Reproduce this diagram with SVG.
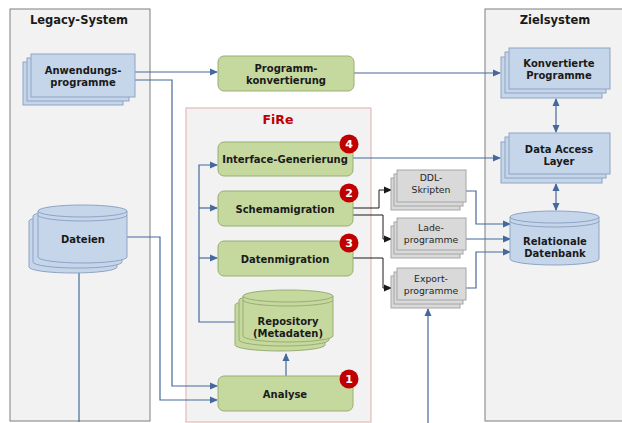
<svg xmlns="http://www.w3.org/2000/svg" width="622" height="423" viewBox="0 0 622 423">
<defs>
<style>
.panel{fill:#f2f2f2;stroke:#7f7f7f;stroke-width:1}
.fire{fill:#f2f2f2;stroke:#e6b9b8;stroke-width:1.2}
.ttl{font-family:"DejaVu Sans",Verdana,sans-serif;font-weight:bold;font-size:11.5px;fill:#1a1a1a;text-anchor:middle}
.t{font-family:"DejaVu Sans",Verdana,sans-serif;font-weight:bold;font-size:10px;fill:#1a1a1a;text-anchor:middle}
.tg{font-family:"DejaVu Sans",Verdana,sans-serif;font-size:9.3px;fill:#262626;text-anchor:middle}
.blue{fill:#c6d6ea;stroke:#8ea3c4;stroke-width:1}
.green{fill:#c5d89e;stroke:#9aae74;stroke-width:1}
.gray{fill:#d9d9d9;stroke:#a6a6a6;stroke-width:1}
.cb{fill:none;stroke:#44699c;stroke-width:1.2}
.ck{fill:none;stroke:#1a1a1a;stroke-width:1}
.badge{fill:#c00000}
.bt{font-family:"DejaVu Sans",Verdana,sans-serif;font-weight:bold;font-size:11px;fill:#ffffff;text-anchor:middle}
</style>
<marker id="ab" markerWidth="8" markerHeight="8" refX="7" refY="4" orient="auto" markerUnits="userSpaceOnUse"><path d="M0,0.5 L8,4 L0,7.5 z" fill="#44699c"/></marker>
<marker id="abs" markerWidth="8" markerHeight="8" refX="1" refY="4" orient="auto" markerUnits="userSpaceOnUse"><path d="M8,0.5 L0,4 L8,7.5 z" fill="#44699c"/></marker>
<marker id="ak" markerWidth="8" markerHeight="8" refX="7" refY="4" orient="auto" markerUnits="userSpaceOnUse"><path d="M0,0.5 L8,4 L0,7.5 z" fill="#1a1a1a"/></marker>
</defs>

<g id="legacy-system">
<rect class="panel" x="10" y="9" width="140" height="412"/>
<text class="ttl" x="79" y="24">Legacy-System</text>
</g>
<g id="fire">
<rect class="fire" x="186" y="108" width="185" height="314"/>
<text class="ttl" x="278" y="124" style="fill:#c00000;font-size:12.5px">FiRe</text>
</g>
<g id="zielsystem">
<rect class="panel" x="485" y="9" width="142" height="412"/>
<text class="ttl" x="555" y="24">Zielsystem</text>
</g>

<g id="connectors">
<path class="cb" d="M135,72 H217" marker-end="url(#ab)"/>
<path class="cb" d="M135,80 H172 V386 H217" marker-end="url(#ab)"/>
<path class="cb" d="M127,237 H160 V400 H217" marker-end="url(#ab)"/>
<path class="cb" d="M79,268 V422"/>
<path class="cb" d="M354,73 H500" marker-end="url(#ab)"/>
<path class="cb" d="M353,158 H500" marker-end="url(#ab)"/>
<path class="cb" d="M556,99 V132" marker-start="url(#abs)" marker-end="url(#ab)"/>
<path class="cb" d="M556,184 V210" marker-start="url(#abs)" marker-end="url(#ab)"/>
<path class="cb" d="M236,322 H199 V165 H217" marker-end="url(#ab)"/>
<path class="cb" d="M199,208 H217" marker-end="url(#ab)"/>
<path class="cb" d="M199,258 H217" marker-end="url(#ab)"/>
<path class="cb" d="M286,376 V354" marker-end="url(#ab)"/>
<path class="ck" d="M353,208 H379 V190 H391" marker-end="url(#ak)"/>
<path class="ck" d="M353,215 H383 V239 H391" marker-end="url(#ak)"/>
<path class="ck" d="M353,258 H383 V288 H391" marker-end="url(#ak)"/>
<path class="cb" d="M466,191 H476 V224 H510" marker-end="url(#ab)"/>
<path class="cb" d="M466,239 H510" marker-end="url(#ab)"/>
<path class="cb" d="M466,288 H476 V252 H510" marker-end="url(#ab)"/>
<path class="cb" d="M428,423 V309" marker-end="url(#ab)"/>
</g>

<g id="anwendungsprogramme">
<rect class="blue" x="23" y="62" width="100" height="43"/>
<rect class="blue" x="27" y="58" width="102" height="43"/>
<rect class="blue" x="31" y="54" width="104" height="43"/>
<text class="t" x="83" y="74">Anwendungs-</text>
<text class="t" x="83" y="86">programme</text>
</g>

<g id="dateien">
<path class="blue" d="M29,221 a44,6 0 0 1 88,0 v46 a44,6 0 0 1 -88,0 z"/>
<path class="blue" d="M33,216 a44,6 0 0 1 89,0 v46 a44,6 0 0 1 -89,0 z"/>
<path class="blue" d="M38,211 a44.5,6 0 0 1 89,0 v46 a44.5,6 0 0 1 -89,0 z"/>
<path fill="none" stroke="#8ea3c4" d="M38,211 a44.5,6 0 0 0 89,0 M38,215 a44.5,6 0 0 0 89,0"/>
<text class="t" x="83" y="243">Dateien</text>
</g>

<g id="programmkonvertierung">
<rect class="green" x="218" y="56" width="136" height="35" rx="6"/>
<text class="t" x="286" y="72">Programm-</text>
<text class="t" x="286" y="84">konvertierung</text>
</g>

<g id="interface-generierung">
<rect class="green" x="218" y="142" width="135" height="34" rx="6"/>
<text class="t" x="285" y="163">Interface-Generierung</text>
<circle class="badge" cx="349" cy="144" r="9.5"/>
<text class="bt" x="349" y="148">4</text>
</g>

<g id="schemamigration">
<rect class="green" x="218" y="191" width="135" height="35" rx="6"/>
<text class="t" x="285" y="213">Schemamigration</text>
<circle class="badge" cx="349" cy="193" r="9.5"/>
<text class="bt" x="349" y="197">2</text>
</g>

<g id="datenmigration">
<rect class="green" x="218" y="241" width="135" height="35" rx="6"/>
<text class="t" x="285" y="263">Datenmigration</text>
<circle class="badge" cx="349" cy="243" r="9.5"/>
<text class="bt" x="349" y="247">3</text>
</g>

<g id="repository">
<path class="green" d="M235,305 a45,6 0 0 1 90,0 v40 a45,6 0 0 1 -90,0 z"/>
<path class="green" d="M239,300 a45,6 0 0 1 90,0 v40 a45,6 0 0 1 -90,0 z"/>
<path class="green" d="M243,296 a45,6 0 0 1 90,0 v40 a45,6 0 0 1 -90,0 z"/>
<path fill="none" stroke="#9aae74" d="M243,296 a45,6 0 0 0 90,0 M243,300 a45,6 0 0 0 90,0"/>
<text class="t" x="288" y="325">Repository</text>
<text class="t" x="288" y="337">(Metadaten)</text>
</g>

<g id="analyse">
<rect class="green" x="218" y="376" width="135" height="35" rx="6"/>
<text class="t" x="285" y="398">Analyse</text>
<circle class="badge" cx="349" cy="379" r="9.5"/>
<text class="bt" x="349" y="383">1</text>
</g>

<g id="ddl-skripten">
<rect class="gray" x="391" y="178" width="69" height="32"/>
<rect class="gray" x="394" y="174" width="69" height="32"/>
<rect class="gray" x="397" y="170" width="69" height="32"/>
<text class="tg" x="431" y="181">DDL-</text>
<text class="tg" x="431" y="193">Skripten</text>
</g>

<g id="ladeprogramme">
<rect class="gray" x="391" y="226" width="69" height="32"/>
<rect class="gray" x="394" y="222" width="69" height="32"/>
<rect class="gray" x="397" y="218" width="69" height="32"/>
<text class="tg" x="431" y="231">Lade-</text>
<text class="tg" x="431" y="243">programme</text>
</g>

<g id="exportprogramme">
<rect class="gray" x="391" y="276" width="69" height="32"/>
<rect class="gray" x="394" y="272" width="69" height="32"/>
<rect class="gray" x="397" y="268" width="69" height="32"/>
<text class="tg" x="431" y="282">Export-</text>
<text class="tg" x="431" y="294">programme</text>
</g>

<g id="konvertierte-programme">
<rect class="blue" x="501" y="57" width="101" height="41"/>
<rect class="blue" x="505" y="52" width="101" height="41"/>
<rect class="blue" x="509" y="48" width="101" height="41"/>
<text class="t" x="559" y="67">Konvertierte</text>
<text class="t" x="559" y="79">Programme</text>
</g>

<g id="data-access-layer">
<rect class="blue" x="501" y="142" width="101" height="41"/>
<rect class="blue" x="505" y="137" width="101" height="41"/>
<rect class="blue" x="509" y="133" width="101" height="41"/>
<text class="t" x="559" y="153">Data Access</text>
<text class="t" x="559" y="165">Layer</text>
</g>

<g id="relationale-datenbank">
<path class="blue" d="M510,217 a44.5,6 0 0 1 89,0 v42 a44.5,6 0 0 1 -89,0 z"/>
<path fill="none" stroke="#8ea3c4" d="M510,217 a44.5,6 0 0 0 89,0 M510,221 a44.5,6 0 0 0 89,0"/>
<text class="t" x="555" y="245">Relationale</text>
<text class="t" x="555" y="257">Datenbank</text>
</g>
</svg>
